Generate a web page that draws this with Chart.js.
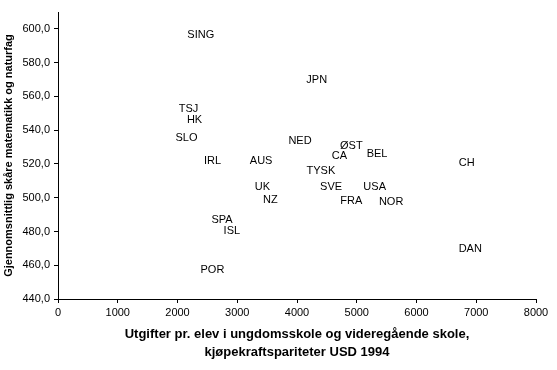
<!DOCTYPE html>
<html>
<head>
<meta charset="utf-8">
<script src="https://cdn.jsdelivr.net/npm/chart.js@4.4.1/dist/chart.umd.min.js"></script>
<style>
  html, body { margin: 0; padding: 0; background: #fff; }
  #wrap { width: 557px; height: 370px; }
</style>
</head>
<body>
<div id="wrap"><canvas id="chart" width="557" height="370"></canvas></div>
<script>
// Country codes, spending per pupil (USD PPP 1994) and mean score
const countries = ['SING', 'JPN', 'TSJ', 'HK', 'SLO', 'IRL', 'AUS', 'NED', 'ØST', 'CA', 'BEL', 'CH',
    'TYSK', 'UK', 'SVE', 'USA', 'NZ', 'FRA', 'NOR', 'SPA', 'ISL', 'DAN', 'POR'];
const spending = [2390, 4330, 2185, 2285, 2150, 2585, 3400, 4050, 4910, 4710, 5340, 6840,
    4400, 3420, 4570, 5300, 3555, 4910, 5575, 2745, 2910, 6900, 2585];
const scores = [596.2, 570.0, 552.8, 546.3, 535.6, 521.9, 521.9, 533.8, 530.9, 524.9, 526.1, 520.8,
    516.0, 506.5, 506.5, 506.5, 498.8, 498.2, 497.6, 486.9, 480.4, 469.7, 457.2];

const FONT = 'Arial, "Liberation Sans", sans-serif';

// Helper: y tick like "600,0"
function formatScore(v) {
    return v.toFixed(1).replace('.', ',');
}

// Draw the country codes where the points are
const textLabels = {
    id: 'textLabels',
    afterDatasetsDraw(chart) {
        const ctx = chart.ctx;
        const meta = chart.getDatasetMeta(0);
        ctx.save();
        ctx.font = '11px ' + FONT;
        ctx.fillStyle = '#000';
        ctx.textAlign = 'center';
        ctx.textBaseline = 'middle';
        meta.data.forEach((pt, i) => {
            ctx.fillText(countries[i], pt.x, pt.y);
        });
        ctx.restore();
    }
};

new Chart(document.getElementById('chart'), {
    type: 'scatter',
    data: {
        datasets: [{
            data: spending.map((x, i) => ({ x: x, y: scores[i] })),
            pointRadius: 0,
            pointHoverRadius: 0
        }]
    },
    options: {
        responsive: false,
        animation: false,
        layout: { padding: { top: 12, right: 21, bottom: 0, left: 0 } },
        plugins: {
            legend: { display: false },
            tooltip: { enabled: false }
        },
        scales: {
            x: {
                type: 'linear',
                min: 0,
                max: 8000,
                afterFit: (s) => { s.height = 71; },
                ticks: {
                    stepSize: 1000,
                    color: '#000',
                    font: { family: FONT, size: 11 },
                    padding: 3,
                    maxRotation: 0,
                    callback: (v) => String(v)
                },
                grid: { drawOnChartArea: false, tickLength: 4, color: '#000' },
                border: { color: '#000', width: 1 },
                title: {
                    display: true,
                    text: ['Utgifter pr. elev i ungdomsskole og videregående skole,', 'kjøpekraftspariteter USD 1994'],
                    color: '#000',
                    font: { family: FONT, size: 13, weight: 'bold', lineHeight: 1.4 },
                    padding: { top: 0, bottom: 8 }
                }
            },
            y: {
                type: 'linear',
                min: 440,
                max: 610,
                afterFit: (s) => { s.width = 58; },
                afterBuildTicks: (s) => { s.ticks = s.ticks.filter(t => t.value % 20 === 0); },
                ticks: {
                    stepSize: 20,
                    color: '#000',
                    font: { family: FONT, size: 11 },
                    padding: 4,
                    callback: (v) => formatScore(v)
                },
                grid: { drawOnChartArea: false, tickLength: 4, color: '#000' },
                border: { color: '#000', width: 1 },
                title: {
                    display: true,
                    text: 'Gjennomsnittlig skåre matematikk og naturfag',
                    color: '#000',
                    font: { family: FONT, size: 11, weight: 'bold', lineHeight: 1.2 },
                    padding: { top: 2, bottom: 0 }
                }
            }
        }
    },
    plugins: [textLabels]
});
</script>
</body>
</html>
